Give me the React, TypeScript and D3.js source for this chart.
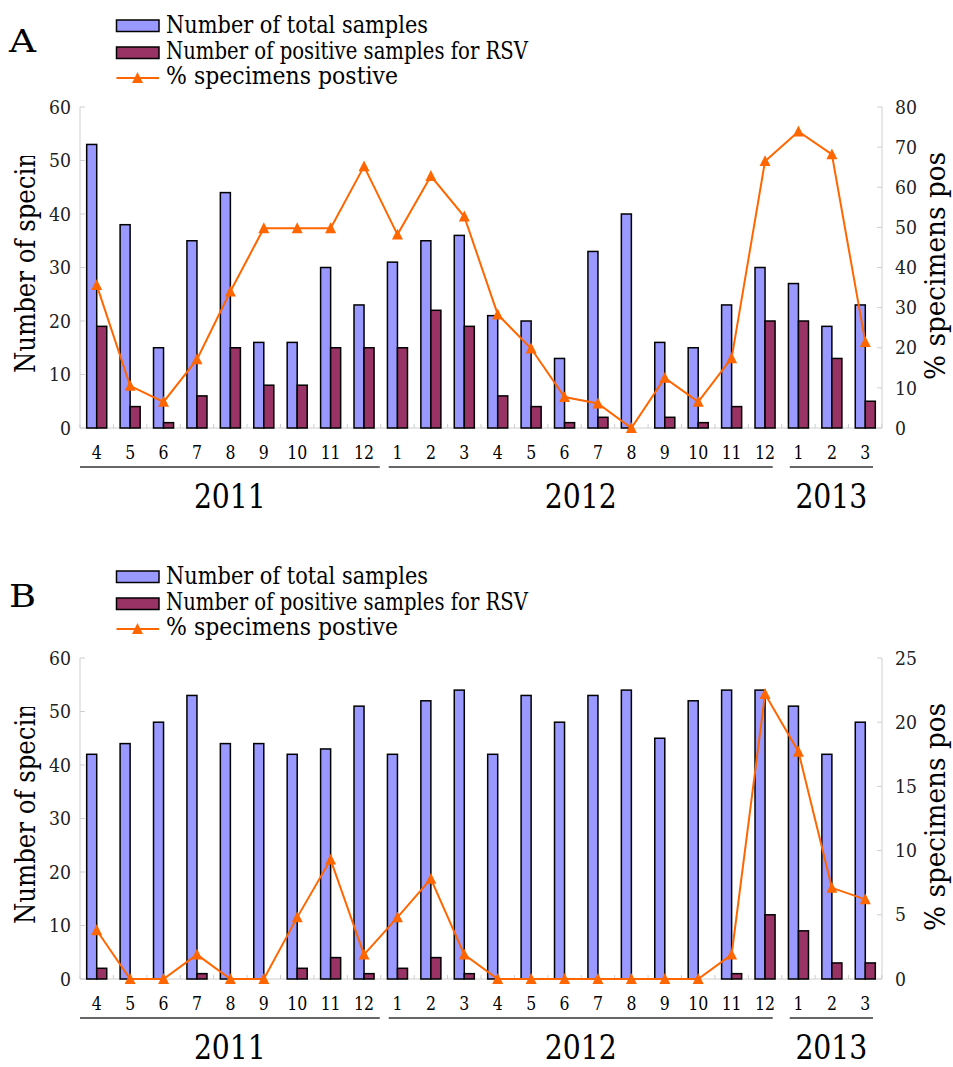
import React from "react";
import * as d3 from "d3";

const months = ["4","5","6","7","8","9","10","11","12","1","2","3","4","5","6","7","8","9","10","11","12","1","2","3"];
const years = [
  { label: "2011", from: 0, to: 8 },
  { label: "2012", from: 9, to: 20 },
  { label: "2013", from: 21, to: 23 },
];

const totalA = [53,38,15,35,44,16,16,30,23,31,35,36,21,20,13,33,40,16,15,23,30,27,19,23];
const positiveA = [19,4,1,6,15,8,8,15,15,15,22,19,6,4,1,2,0,2,1,4,20,20,13,5];
const pctA = [35.6,10.5,6.5,17.1,34.0,49.8,49.8,49.8,65.2,48.2,62.8,52.7,28.3,19.8,7.7,6.1,0,12.5,6.5,17.4,66.5,73.9,68.2,21.4];
const rightTicksA = [0,10,20,30,40,50,60,70,80];

const totalB = [42,44,48,53,44,44,42,43,51,42,52,54,42,53,48,53,54,45,52,54,54,51,42,48];
const positiveB = [2,0,0,1,0,0,2,4,1,2,4,1,0,0,0,0,0,0,0,1,12,9,3,3];
const pctB = [3.8,0,0,1.9,0,0,4.8,9.3,1.9,4.8,7.8,1.9,0,0,0,0,0,0,0,1.9,22.2,17.7,7.1,6.2];
const rightTicksB = [0,5,10,15,20,25];

const leftTicks = [0,10,20,30,40,50,60];
const legendLabels = ["Number of total samples", "Number of positive samples for RSV", "% specimens postive"];
const legendWidths = [262, 362, 232];

const BLUE = "#9999FF";
const MAROON = "#993366";
const ORANGE = "#FF6600";
const AXIS = "#cfcfcf";
const FONT = "'DejaVu Serif', 'Liberation Serif', serif";

const X0 = 80, X1 = 882;

function tri(cx: number, cy: number, s = 11) {
  const h = s * 0.9;
  return `M${cx},${cy - h / 2 - 1} L${cx + s / 2},${cy + h / 2} L${cx - s / 2},${cy + h / 2} Z`;
}

const fit = { lengthAdjust: "spacingAndGlyphs" as const };

function Panel({ dy, letter, total, positive, pct, rightMax, rightTicks, id }: any) {
  const top = 107 + dy, bottom = 428 + dy;
  const x = d3.scaleBand<number>().domain(d3.range(months.length)).range([X0, X1]).paddingInner(0).paddingOuter(0);
  const bw = x.bandwidth();
  const barW = bw * 0.3;
  const yL = d3.scaleLinear().domain([0, 60]).range([bottom, top]);
  const yR = d3.scaleLinear().domain([0, rightMax]).range([bottom, top]);
  const line = d3.line<number>().x((_, i) => (x(i) as number) + bw / 2).y((d) => yR(d));

  return (
    <g>
      <defs>
        <clipPath id={`clipL${id}`}><rect x={0} y={156 + dy} width={60} height={300} /></clipPath>
        <clipPath id={`clipR${id}`}><rect x={900} y={152 + dy} width={60} height={300} /></clipPath>
      </defs>
      <text x={9} y={52 + dy + (id === "B" ? 4 : 0)} fontSize={31} fontFamily={FONT} textLength={27} {...fit}>{letter}</text>
      {/* legend */}
      <rect x={116.5} y={20 + dy} width={42.5} height={11.5} fill={BLUE} stroke="#000" strokeWidth={1.5} />
      <rect x={116.5} y={47 + dy} width={42.5} height={11.5} fill={MAROON} stroke="#000" strokeWidth={1.5} />
      <line x1={116.5} x2={159} y1={78 + dy} y2={78 + dy} stroke={ORANGE} strokeWidth={2} />
      <path d={tri(137.5, 78 + dy)} fill={ORANGE} />
      {legendLabels.map((t, i) => (
        <text key={t} x={166} y={33 + dy + i * 25.5} fontSize={23.5} fontFamily={FONT} textLength={legendWidths[i]} {...fit}>{t}</text>
      ))}
      {/* axes */}
      <line x1={X0} x2={X0} y1={top} y2={bottom} stroke={AXIS} />
      <line x1={X1} x2={X1} y1={top} y2={bottom} stroke={AXIS} />
      <line x1={X0} x2={X1} y1={bottom} y2={bottom} stroke={AXIS} />
      {leftTicks.map((t) => (
        <g key={`l${t}`}>
          <line x1={X0} x2={X0 + 5} y1={yL(t)} y2={yL(t)} stroke={AXIS} />
          <text x={71} y={yL(t)} dy="0.35em" textAnchor="end" fontSize={19} fontFamily={FONT} fill="#222" textLength={String(t).length * 11} {...fit}>{t}</text>
        </g>
      ))}
      {rightTicks.map((t: number) => (
        <g key={`r${t}`}>
          <line x1={X1 - 5} x2={X1} y1={yR(t)} y2={yR(t)} stroke={AXIS} />
          <text x={895} y={yR(t)} dy="0.35em" textAnchor="start" fontSize={19} fontFamily={FONT} fill="#222" textLength={String(t).length * 11} {...fit}>{t}</text>
        </g>
      ))}
      {d3.range(months.length + 1).map((i) => (
        <line key={`b${i}`} x1={X0 + i * bw} x2={X0 + i * bw} y1={bottom} y2={bottom - 4} stroke={AXIS} />
      ))}
      {/* bars */}
      {total.map((v: number, i: number) => (
        <rect key={`t${i}`} x={(x(i) as number) + bw / 2 - barW} y={yL(v)} width={barW} height={bottom - yL(v)} fill={BLUE} stroke="#000" strokeWidth={1.5} />
      ))}
      {positive.map((v: number, i: number) => (
        <rect key={`p${i}`} x={(x(i) as number) + bw / 2} y={yL(v)} width={barW} height={bottom - yL(v)} fill={MAROON} stroke="#000" strokeWidth={1.5} />
      ))}
      {/* line */}
      <path d={line(pct) || ""} fill="none" stroke={ORANGE} strokeWidth={2} />
      {pct.map((v: number, i: number) => (
        <path key={`m${i}`} d={tri((x(i) as number) + bw / 2, yR(v))} fill={ORANGE} />
      ))}
      {/* axis titles */}
      <g clipPath={`url(#clipL${id})`}>
        <text transform={`translate(35,${373 + dy}) rotate(-90)`} fontSize={28} fontFamily={FONT} textLength={271} {...fit}>Number of specimens</text>
      </g>
      <g clipPath={`url(#clipR${id})`}>
        <text transform={`translate(945,${380 + dy}) rotate(-90)`} fontSize={28} fontFamily={FONT} textLength={286} {...fit}>% specimens positive</text>
      </g>
      {/* category labels */}
      {months.map((m, i) => (
        <text key={`c${i}`} x={(x(i) as number) + bw / 2} y={452 + dy} dy="0.35em" textAnchor="middle" fontSize={19} fontFamily={FONT} textLength={m.length * 10} {...fit}>{m}</text>
      ))}
      {years.map((yr, k) => {
        const s = (x(yr.from) as number) + (k === 0 ? 0 : 8);
        const e = (x(yr.to) as number) + bw - (k === 0 ? 1 : 9);
        return (
          <g key={yr.label}>
            <line x1={s} x2={e} y1={467 + dy} y2={467 + dy} stroke="#333" strokeWidth={1.5} />
            <text x={(s + e) / 2} y={496 + dy} dy="0.35em" textAnchor="middle" fontSize={33} fontFamily={FONT} textLength={72} {...fit}>{yr.label}</text>
          </g>
        );
      })}
    </g>
  );
}

export default function App() {
  return (
    <svg width={953} height={1067} style={{ position: "absolute", left: 0, top: 0, background: "#fff" }}>
      <rect width={953} height={1067} fill="#fff" />
      <Panel id="A" dy={0} letter="A" total={totalA} positive={positiveA} pct={pctA} rightMax={80} rightTicks={rightTicksA} />
      <Panel id="B" dy={551} letter="B" total={totalB} positive={positiveB} pct={pctB} rightMax={25} rightTicks={rightTicksB} />
    </svg>
  );
}
